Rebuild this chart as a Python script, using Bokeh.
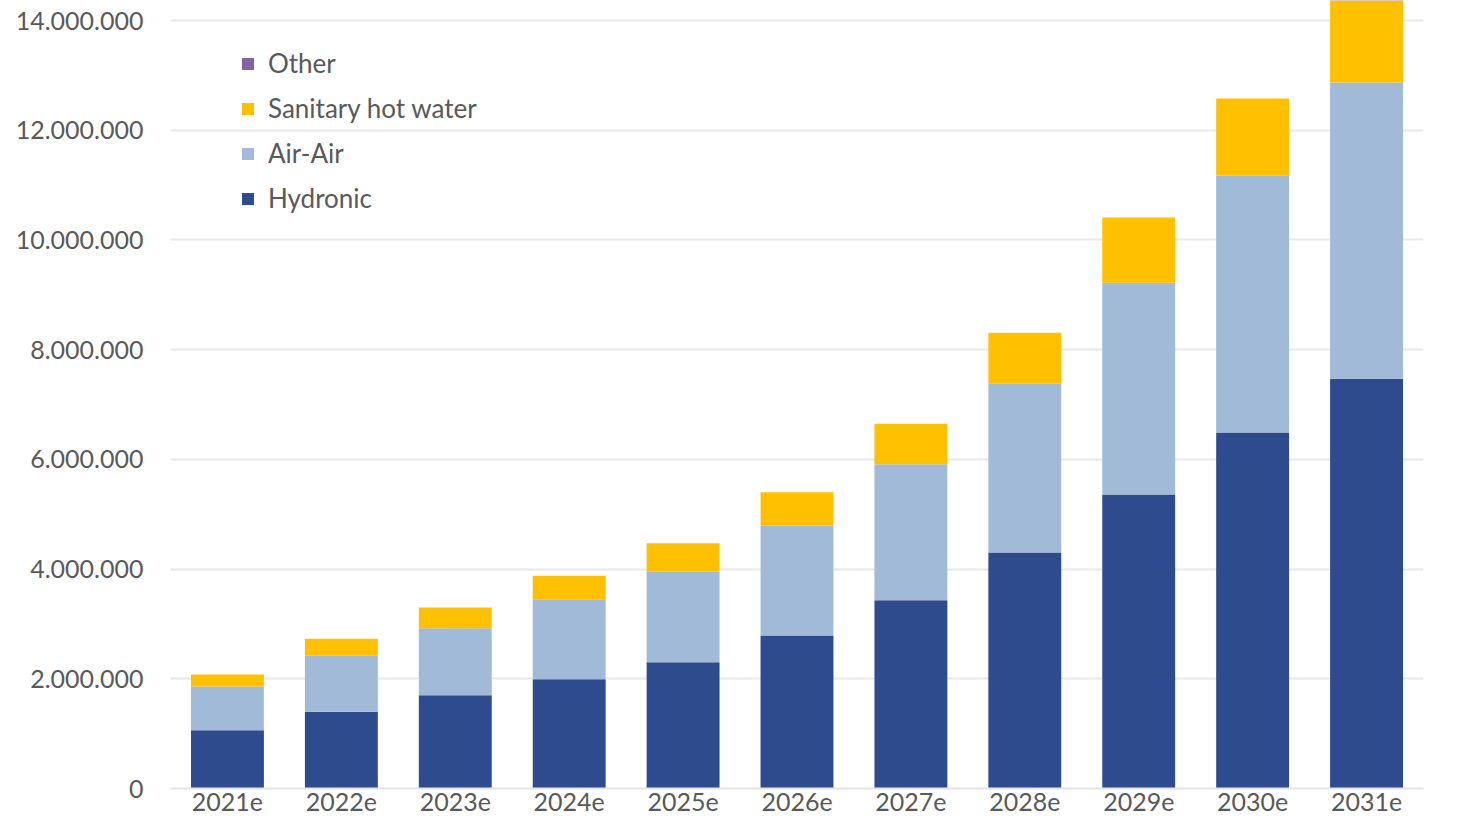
from bokeh.plotting import figure
from bokeh.models import FactorRange, Range1d, FixedTicker, CustomJSTickFormatter, Legend, LegendItem
from bokeh.embed import file_html
from bokeh.resources import INLINE

years = ["2021e", "2022e", "2023e", "2024e", "2025e", "2026e", "2027e", "2028e", "2029e", "2030e", "2031e"]
hydronic = [1060000, 1400000, 1700000, 1990000, 2300000, 2790000, 3430000, 4300000, 5360000, 6490000, 7470000]
air_air = [800000, 1020000, 1220000, 1460000, 1660000, 2000000, 2480000, 3080000, 3860000, 4680000, 5400000]
sanitary = [220000, 310000, 380000, 430000, 510000, 610000, 740000, 930000, 1190000, 1410000, 1800000]
other = [0, 0, 0, 0, 0, 0, 0, 0, 0, 0, 0]
y_ticks = [0, 2000000, 4000000, 6000000, 8000000, 10000000, 12000000, 14000000]

series = ["Hydronic", "Air-Air", "Sanitary hot water", "Other"]
colors = ["#2E4B8E", "#A0BAD7", "#FFC000", "#8064A2"]

data = dict(years=years, Hydronic=hydronic)
data["Air-Air"] = air_air
data["Sanitary hot water"] = sanitary
data["Other"] = other

FONT = "Lato"

p = figure(x_range=FactorRange(*years, range_padding=0), y_range=Range1d(0, 14364600),
           width=1455, height=823, output_backend="svg", toolbar_location=None,
           min_border_left=170, min_border_right=32, min_border_top=0, min_border_bottom=35)

renderers = p.vbar_stack(series, x="years", width=0.64, color=colors, source=data, line_color=None)

items = [LegendItem(label=s, renderers=[r]) for s, r in zip(series, renderers)][::-1]
legend = Legend(items=items, location=(70, 574), orientation="vertical",
                label_text_font=FONT, label_text_font_size="26px", label_text_color="#595959",
                glyph_width=15, glyph_height=15, label_height=26, label_standoff=13,
                spacing=13, padding=0, margin=0,
                border_line_color=None, background_fill_alpha=0)
p.add_layout(legend)

p.yaxis.ticker = FixedTicker(ticks=y_ticks)
p.yaxis.formatter = CustomJSTickFormatter(code="""
return Math.round(tick).toString().replace(/\\B(?=(\\d{3})+(?!\\d))/g, ".");
""")
p.yaxis.axis_line_color = None
p.yaxis.major_tick_line_color = None
p.yaxis.minor_tick_line_color = None
p.yaxis.major_tick_out = 0
p.yaxis.minor_tick_out = 0
p.yaxis.major_label_standoff = 27
p.yaxis.major_label_text_font = FONT
p.yaxis.major_label_text_font_size = "25px"
p.yaxis.major_label_text_color = "#595959"

p.xaxis.axis_line_color = "#E4E4E4"
p.xaxis.axis_line_width = 2
p.xaxis.major_tick_line_color = None
p.xaxis.minor_tick_line_color = None
p.xaxis.major_tick_out = 0
p.xaxis.minor_tick_out = 0
p.xaxis.major_label_standoff = 4
p.xaxis.major_label_text_font = FONT
p.xaxis.major_label_text_font_size = "25px"
p.xaxis.major_label_text_color = "#595959"

p.xgrid.grid_line_color = None
p.ygrid.grid_line_color = "#E8E8E8"
p.ygrid.grid_line_width = 2
p.outline_line_color = None

open("out.html", "w").write(file_html(p, INLINE))
